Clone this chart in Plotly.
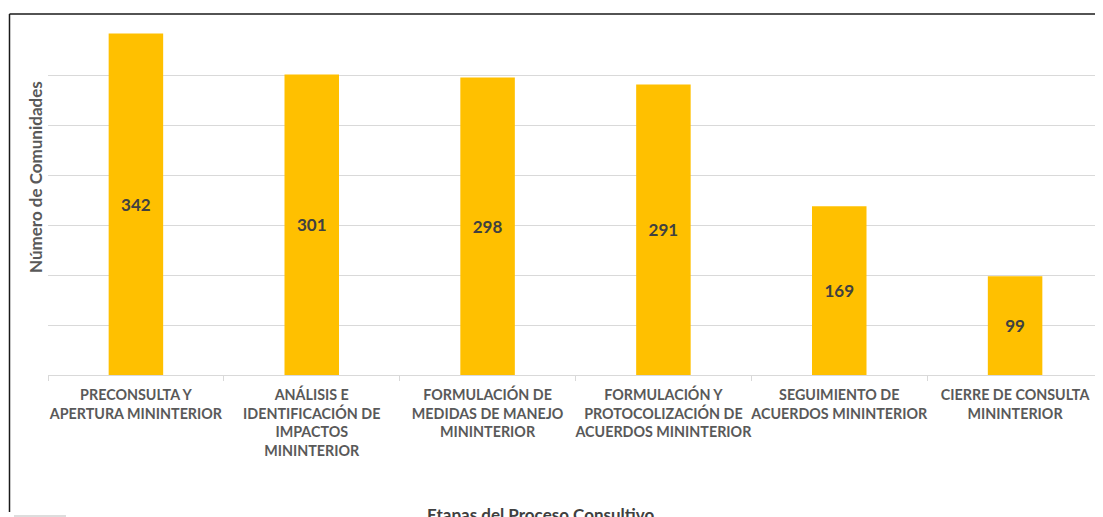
import plotly.graph_objects as go

categories = [
    "PRECONSULTA Y<br>APERTURA MININTERIOR",
    "ANÁLISIS E<br>IDENTIFICACIÓN DE<br>IMPACTOS<br>MININTERIOR",
    "FORMULACIÓN DE<br>MEDIDAS DE MANEJO<br>MININTERIOR",
    "FORMULACIÓN Y<br>PROTOCOLIZACIÓN DE<br>ACUERDOS MININTERIOR",
    "SEGUIMIENTO DE<br>ACUERDOS MININTERIOR",
    "CIERRE DE CONSULTA<br>MININTERIOR",
]
values = [342, 301, 298, 291, 169, 99]
y_title = "Número de Comunidades"
x_title = "Etapas del Proceso Consultivo"

OFF = 8  # page body margin
W, H = 1103 - OFF, 517 - OFF
L, R = 48 - OFF, 0
T = 25 - OFF
B = H - (375 - OFF)
pw = W - L - R
ph = H - T - B

def px_x(x):
    # x in reference-window pixels
    return (x - OFF - L) / pw

def px_y(y):
    return (H - B - (y - OFF)) / ph

fig = go.Figure(go.Bar(
    x=categories, y=values,
    marker=dict(color="#FFC000", line=dict(width=0)),
    text=[str(v) for v in values],
    textposition="inside", insidetextanchor="middle",
    textangle=0,
    textfont=dict(family="Lato", size=17, color="#404040"),
    texttemplate="<b>%{text}</b>",
    width=0.31,
))

fig.update_layout(
    width=W, height=H,
    margin=dict(l=L, r=R, t=T, b=B, autoexpand=False),
    paper_bgcolor="white", plot_bgcolor="white",
    showlegend=False,
    font=dict(family="Lato", color="#595959"),
)
fig.update_xaxes(
    tickfont=dict(family="Lato", size=14.3, color="#595959", weight="bold"),
    tickangle=0, automargin=False,
    ticks="outside", tickson="boundaries", ticklen=5, tickcolor="#d9d9d9",
    showline=True, linecolor="#d9d9d9", linewidth=1,
    showgrid=False, ticklabelstandoff=7,
)
fig.update_yaxes(
    range=[0, 350.6], tickvals=[50, 100, 150, 200, 250, 300, 350],
    showticklabels=False, automargin=False,
    showgrid=True, gridcolor="#d9d9d9", gridwidth=1,
    zeroline=False, showline=False,
)

# y axis title
fig.add_annotation(
    text="<b>" + y_title + "</b>", textangle=-90,
    xref="paper", yref="paper", x=px_x(35), y=px_y(177),
    showarrow=False, font=dict(family="Lato", size=17, color="#595959"),
    xanchor="center", yanchor="middle",
)
# x axis title (cut at bottom, as in the reference)
fig.add_annotation(
    text="<b>" + x_title + "</b>",
    xref="paper", yref="paper", x=px_x(540), y=px_y(515),
    showarrow=False, font=dict(family="Lato", size=17, color="#404040"),
    xanchor="center", yanchor="middle",
)

# outer frame lines
fig.add_shape(type="line", xref="paper", yref="paper",
              x0=px_x(9.5), x1=px_x(1110), y0=px_y(14), y1=px_y(14),
              line=dict(color="#1a1a1a", width=1.5))
fig.add_shape(type="line", xref="paper", yref="paper",
              x0=px_x(9.5), x1=px_x(9.5), y0=px_y(14), y1=px_y(512),
              line=dict(color="#1a1a1a", width=1.5))
fig.add_shape(type="line", xref="paper", yref="paper",
              x0=px_x(14), x1=px_x(66), y0=px_y(516), y1=px_y(516),
              line=dict(color="#bbbbbb", width=1))

fig.write_html("out.html")
